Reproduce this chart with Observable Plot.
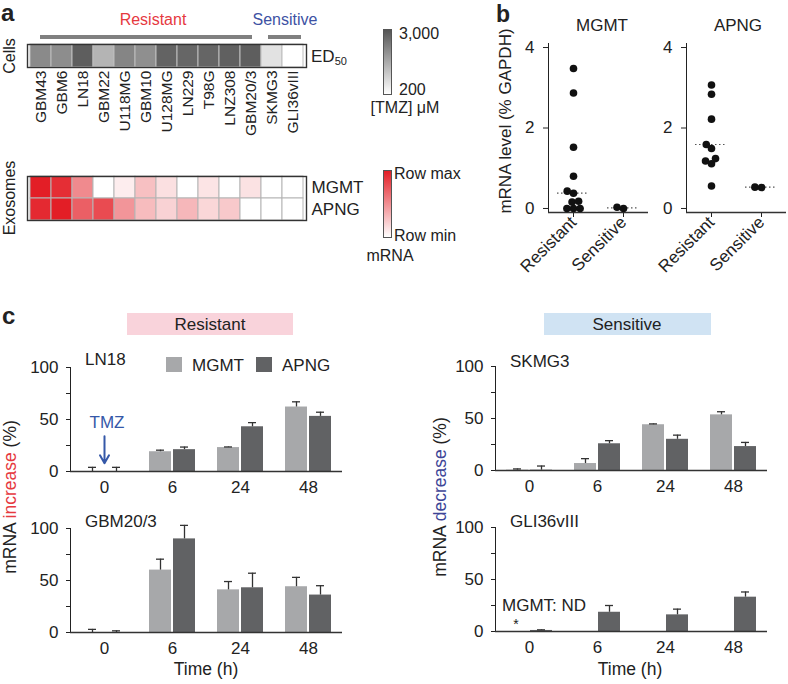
<!DOCTYPE html>
<html><head><meta charset="utf-8">
<script src="https://cdn.jsdelivr.net/npm/d3@7"></script>
<script src="https://cdn.jsdelivr.net/npm/@observablehq/plot@0.6"></script>
<style>
body{margin:0;background:#fff;}
#root{position:relative;width:788px;height:684px;overflow:hidden;font-family:"Liberation Sans",Arial,Helvetica,sans-serif;color:#222;}
.t{position:absolute;white-space:nowrap;line-height:1;}
.p{position:absolute;}
</style></head><body><div id="root"></div><script>
// ---------- Panel a data ----------
const cellLines = ["GBM43","GBM6","LN18","GBM22","U118MG","GBM10","U128MG","LN229","T98G","LNZ308","GBM20/3","SKMG3","GLI36vIII"];
const ed50 = [2120, 2080, 2850, 1430, 2210, 2040, 2770, 2720, 2740, 2820, 2850, 680, 200];
const exoGenes = ["MGMT","APNG"];
const exoMGMT = [1.0, 0.93, 0.52, 0, 0.08, 0.28, 0.14, 0, 0.12, 0, 0.13, 0, 0];
const exoAPNG = [0.95, 1.0, 0.71, 0.80, 0.47, 0.30, 0.20, 0.32, 0.18, 0.24, 0, 0, 0];

// ---------- Panel b data ----------
const bGroups = ["Resistant","Sensitive"];
const mgmtRes = [0, 0, 0, 0.16, 0.18, 0.38, 0.43, 0.80, 1.52, 2.87, 3.48];
const mgmtSen = [0, 0.03];
const apngRes = [0.56, 1.11, 1.18, 1.24, 1.49, 1.59, 2.22, 2.84, 3.07];
const apngSen = [0.52, 0.53];
const mgmtLines = [0.38, 0.015];
const apngLines = [1.59, 0.53];

// ---------- Panel c data ----------
const times = ["0","6","24","48"];
const ln18MGMT = [0, 19, 23, 62],   ln18MGMTerr = [4, 1.5, 0.6, 5];
const ln18APNG = [0, 21, 43, 53],   ln18APNGerr = [4, 2.5, 4, 4];
const gbmMGMT  = [0, 60, 41, 44],   gbmMGMTerr  = [3, 10.5, 8, 9];
const gbmAPNG  = [0, 90, 43, 36],   gbmAPNGerr  = [1.6, 13, 14, 9];
const skmMGMT  = [0.3, 6.7, 44, 53.5], skmMGMTerr = [1.2, 4.7, 0.8, 3];
const skmAPNG  = [0.3, 25.7, 30, 23],  skmAPNGerr = [4, 3, 4, 4];
const gliMGMT  = [null, null, null, null], gliMGMTerr = [null, null, null, null];
const gliAPNG  = [1, 18.5, 16, 33],  gliAPNGerr = [0.6, 6.5, 5.5, 5];
const tmzArrow = [{time: "0", from: 34, to: 8}];

const root = document.getElementById("root");
const FONT = '"Liberation Sans", Arial, Helvetica, sans-serif';

function txt(html, x, y, o = {}) {
  const {anchor = "middle", size = 17, color = "#222", weight = "normal", rotate = 0} = o;
  const d = document.createElement("div");
  d.className = "t";
  d.innerHTML = html;
  d.style.left = x + "px"; d.style.top = y + "px";
  d.style.fontSize = size + "px"; d.style.color = color; d.style.fontWeight = weight;
  const tx = anchor === "start" ? "0" : anchor === "end" ? "-100%" : "-50%";
  d.style.transform = `translate(${tx},-50%)` + (rotate ? ` rotate(${rotate}deg)` : "");
  root.appendChild(d);
  return d;
}
function box(x, y, w, h, style) {
  const d = document.createElement("div");
  d.className = "p";
  Object.assign(d.style, {left: x + "px", top: y + "px", width: w + "px", height: h + "px", boxSizing: "border-box"}, style);
  root.appendChild(d);
  return d;
}
function place(svg, x, y) {
  svg.style.position = "absolute";
  svg.style.left = x + "px"; svg.style.top = y + "px";
  root.appendChild(svg);
}
const baseStyle = {fontSize: "17px", fontFamily: FONT, color: "#222", background: "transparent", overflow: "visible"};

// ================= Panel a =================
txt("a", 1, 13, {anchor: "start", size: 24, weight: "bold"});
txt("Resistant", 153, 20, {size: 16, color: "#e6393f"});
txt("Sensitive", 285, 20, {size: 16, color: "#3d52a3"});
box(40, 35, 212, 4, {background: "#808080"});
box(268, 35, 33, 4, {background: "#808080"});
txt("Cells", 10, 56, {size: 16, rotate: -90});
txt("Exosomes", 10, 198, {size: 16, rotate: -90});
txt("ED<sub style='font-size:11px;vertical-align:-3px'>50</sub>", 311, 57, {anchor: "start", size: 17});

const cellRows = cellLines.map((c, i) => ({line: c, row: "ED50", v: ed50[i]}));
place(Plot.plot({
  width: 312, height: 87, marginLeft: 27, marginRight: 6, marginTop: 1, marginBottom: 63,
  style: {...baseStyle, fontSize: "15.5px"},
  x: {domain: cellLines, padding: 0, tickRotate: -90, tickSize: 0, tickPadding: 3, label: null},
  y: {axis: null, domain: ["ED50"], padding: 0},
  color: {type: "linear", domain: [200, 3000], range: ["#ffffff", "#555555"], interpolate: "rgb"},
  marks: [
    Plot.cell(cellRows, {x: "line", y: "row", fill: "v", stroke: "#bdbdbd", strokeWidth: 1, inset: 0}),
    Plot.frame({stroke: "#333", strokeWidth: 1.4})
  ]
}), 0, 43);

const exoRows = cellLines.flatMap((c, i) => [
  {line: c, gene: "MGMT", v: exoMGMT[i]},
  {line: c, gene: "APNG", v: exoAPNG[i]}
]);
place(Plot.plot({
  width: 380, height: 46, marginLeft: 27, marginRight: 74, marginTop: 1, marginBottom: 1,
  style: {...baseStyle, fontSize: "17px"},
  x: {domain: cellLines, padding: 0, axis: null},
  y: {domain: exoGenes, padding: 0, axis: "right", tickSize: 0, tickPadding: 5, label: null},
  color: {type: "linear", domain: [0, 1], range: ["#ffffff", "#e31e26"], interpolate: "rgb"},
  marks: [
    Plot.cell(exoRows, {x: "line", y: "gene", fill: "v", stroke: "#b5b5b5", strokeWidth: 1, inset: 0}),
    Plot.frame({stroke: "#333", strokeWidth: 1.4})
  ]
}), 0, 175);

// colour bars (legends)
box(383, 29, 9, 66, {background: "linear-gradient(to bottom,#555555,#ffffff)", border: "1px solid #555"});
txt("3,000", 399, 34, {anchor: "start", size: 16});
txt("200", 399, 90, {anchor: "start", size: 16});
txt("[TMZ] μM", 405, 108, {size: 16});
box(383, 170, 9, 68, {background: "linear-gradient(to bottom,#e31e26,#ffffff)", border: "1px solid #555"});
txt("Row max", 394, 174, {anchor: "start", size: 16});
txt("Row min", 394, 236, {anchor: "start", size: 16});
txt("mRNA", 390, 256, {size: 16});

// ================= Panel b =================
txt("b", 496, 14, {anchor: "start", size: 23, weight: "bold"});
txt("MGMT", 602, 25, {size: 17});
txt("APNG", 738, 25, {size: 17});
txt("mRNA level (% GAPDH)", 505, 121, {size: 17, rotate: -90});

function dotPlot(res, sen, lines) {
  const pts = [...res.map(v => ({group: "Resistant", value: v})), ...sen.map(v => ({group: "Sensitive", value: v}))];
  const med = bGroups.map((g, i) => ({group: g, value: lines[i]}));
  return Plot.plot({
    width: 160, height: 290, marginLeft: 48, marginRight: 12, marginTop: 43, marginBottom: 78,
    style: baseStyle,
    fx: {domain: bGroups, padding: 0, label: null, tickRotate: -45, tickSize: 5, tickPadding: 2},
    y: {domain: [-0.1, 4.1], ticks: [0, 2, 4], tickFormat: d => String(d), tickSize: 5, tickPadding: 9, line: true, label: null},
    marks: [
      Plot.ruleY([-0.1], {stroke: "#333", strokeWidth: 1.5}),
      Plot.tickY(med, {fx: "group", y: "value", insetLeft: 9, insetRight: 9, stroke: "#555", strokeWidth: 1.2, strokeDasharray: "1.5,2.5"}),
      Plot.dot(pts, Plot.dodgeX({anchor: "middle", padding: -1}, {fx: "group", y: "value", r: 3.8, fill: "#111", stroke: "none"}))
    ]
  });
}
place(dotPlot(mgmtRes, mgmtSen, mgmtLines), 500, 0);
place(dotPlot(apngRes, apngSen, apngLines), 638, 0);

// ================= Panel c =================
txt("c", 2, 316, {anchor: "start", size: 24, weight: "bold"});
box(127, 313, 166, 22, {background: "#f9d3db"});
txt("Resistant", 210, 324, {size: 17});
box(544, 313, 167, 22, {background: "#d0e3f3"});
txt("Sensitive", 627, 324, {size: 17});

const C_M = "#a7a8aa", C_A = "#616264";
function barPlot(mgmt, mgmtErr, apng, apngErr, left, extra = []) {
  const rows = times.map((t, i) => ({time: t, m: mgmt[i], me: mgmtErr[i], a: apng[i], ae: apngErr[i]}));
  const mRows = rows.filter(d => d.m != null);
  const right = left === 70 ? 10 : 21;
  return Plot.plot({
    width: left + 272 + right, height: 166,
    marginLeft: left, marginRight: right, marginTop: 27, marginBottom: 35,
    style: baseStyle,
    x: {domain: times, padding: 0, tickSize: 0, tickPadding: 9, label: null},
    y: {domain: [0, 100], ticks: [0, 25, 50, 75, 100], tickFormat: d => d % 50 === 0 ? String(d) : "", tickSize: 4, tickPadding: 8, line: true, label: null},
    marks: [
      Plot.barY(mRows, {x: "time", y: "m", fill: C_M, insetLeft: 11, insetRight: 35}),
      Plot.barY(rows, {x: "time", y: "a", fill: C_A, insetLeft: 35, insetRight: 11}),
      Plot.ruleX(mRows, {x: "time", y1: "m", y2: d => d.m + d.me, dx: -12, stroke: "#333", strokeWidth: 1.3}),
      Plot.tickY(mRows, {x: "time", y: d => d.m + d.me, insetLeft: 18, insetRight: 42, stroke: "#333", strokeWidth: 1.3}),
      Plot.ruleX(rows, {x: "time", y1: "a", y2: d => d.a + d.ae, dx: 12, stroke: "#333", strokeWidth: 1.3}),
      Plot.tickY(rows, {x: "time", y: d => d.a + d.ae, insetLeft: 42, insetRight: 18, stroke: "#333", strokeWidth: 1.3}),
      Plot.ruleY([0], {stroke: "#333", strokeWidth: 1.5}),
      ...extra
    ]
  });
}
place(barPlot(ln18MGMT, ln18MGMTerr, ln18APNG, ln18APNGerr, 70, [
  Plot.arrow(tmzArrow, {x1: "time", x2: "time", y1: "from", y2: "to", stroke: "#3558a8", strokeWidth: 2, headLength: 9})
]), 0, 340);
place(barPlot(gbmMGMT, gbmMGMTerr, gbmAPNG, gbmAPNGerr, 70), 0, 501);
place(barPlot(skmMGMT, skmMGMTerr, skmAPNG, skmAPNGerr, 95), 400, 339);
place(barPlot(gliMGMT, gliMGMTerr, gliAPNG, gliAPNGerr, 95), 400, 500);

txt("TMZ", 107, 422, {size: 17, color: "#3558a8"});
txt("LN18", 85, 359, {anchor: "start", size: 17});
txt("GBM20/3", 85, 521, {anchor: "start", size: 17});
txt("SKMG3", 510, 361, {anchor: "start", size: 17});
txt("GLI36vIII", 510, 521, {anchor: "start", size: 17});
txt("MGMT: ND", 502, 605, {anchor: "start", size: 17});
txt("*", 516, 624, {size: 14});
// legend
box(166, 357, 16, 15, {background: C_M});
txt("MGMT", 192, 365, {anchor: "start", size: 17});
box(256, 357, 16, 15, {background: C_A});
txt("APNG", 282, 365, {anchor: "start", size: 17});
// axis titles
txt("mRNA <span style='color:#e6393f'>increase</span> (%)", 11, 497, {size: 17.5, rotate: -90});
txt("mRNA <span style='color:#3d4597'>decrease</span> (%)", 441, 497, {size: 17.5, rotate: -90});
txt("Time (h)", 206, 670, {size: 17.5});
txt("Time (h)", 630, 670, {size: 17.5});
</script></body></html>
